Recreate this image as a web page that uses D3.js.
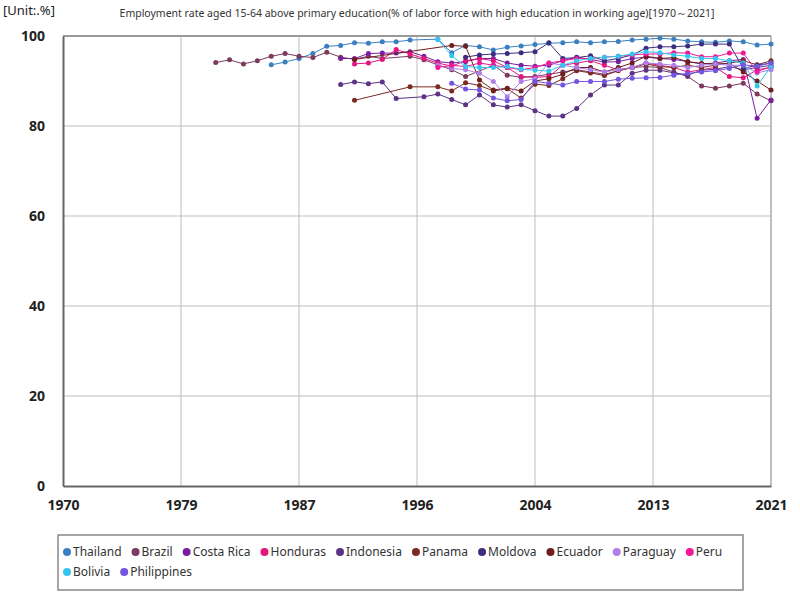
<!DOCTYPE html>
<html>
<head>
<meta charset="utf-8">
<script src="https://cdn.jsdelivr.net/npm/d3@7"></script>
<style>
  body { margin: 0; background: #fff; }
  text { font-family: "Noto Sans", "DejaVu Sans", sans-serif; }
</style>
</head>
<body>
<div id="chart"></div>
<script>
// series data: [year, value]
const thailand = [[1985,93.6],[1986,94.2],[1987,95.0],[1988,96.1],[1989,97.7],[1990,97.9],[1991,98.5],[1992,98.4],[1993,98.7],[1994,98.7],[1995,99.1],[1997,99.3],[1998,96.3],[1999,97.9],[2000,97.6],[2001,96.9],[2002,97.5],[2003,97.8],[2004,98.1],[2005,98.4],[2006,98.5],[2007,98.7],[2008,98.5],[2009,98.7],[2010,98.8],[2011,99.1],[2012,99.3],[2013,99.5],[2014,99.3],[2015,98.9],[2016,98.7],[2017,98.6],[2018,98.9],[2019,98.7],[2020,98.0],[2021,98.2]];
const brazil = [[1981,94.1],[1982,94.7],[1983,93.8],[1984,94.5],[1985,95.5],[1986,96.1],[1987,95.5],[1988,95.2],[1989,96.4],[1990,95.3],[1991,94.8],[1992,95.5],[1993,95.0],[1995,95.5],[1996,94.7],[1997,93.6],[1998,92.5],[1999,91.0],[2001,93.5],[2002,91.3],[2003,90.8],[2004,91.0],[2005,91.5],[2006,92.0],[2007,92.5],[2008,92.0],[2009,91.5],[2011,93.0],[2012,93.2],[2013,93.0],[2014,92.0],[2015,91.0],[2016,88.9],[2017,88.4],[2018,88.9],[2019,89.5],[2020,87.1],[2021,85.6]];
const costaRica = [[1990,95.0],[1991,95.0],[1992,96.1],[1993,96.2],[1994,96.2],[1995,96.5],[1996,95.5],[1997,94.3],[1998,94.0],[1999,94.3],[2000,95.0],[2001,95.0],[2002,94.0],[2003,93.5],[2004,93.3],[2005,93.5],[2006,94.5],[2007,95.3],[2008,94.8],[2009,94.2],[2010,94.3],[2011,95.0],[2012,95.3],[2013,95.0],[2014,94.8],[2015,94.3],[2016,93.8],[2017,94.0],[2018,94.5],[2019,94.8],[2020,81.7],[2021,85.8]];
const honduras = [[1991,93.8],[1992,94.0],[1993,94.8],[1994,97.0],[1995,96.0],[1996,95.0],[1997,94.0],[1998,93.3],[1999,94.5],[2000,95.0],[2001,94.5],[2002,93.0],[2003,91.0],[2004,90.8],[2005,91.0],[2006,93.5],[2007,94.0],[2008,94.5],[2009,93.5],[2010,92.5],[2011,93.0],[2012,94.0],[2013,93.5],[2014,93.0],[2015,92.0],[2016,92.5],[2017,93.0],[2018,91.0],[2019,90.7],[2020,92.5],[2021,93.0]];
const indonesia = [[1990,89.2],[1991,89.8],[1992,89.4],[1993,89.8],[1994,86.1],[1996,86.5],[1997,87.1],[1998,85.9],[1999,84.7],[2000,86.9],[2001,84.7],[2002,84.2],[2003,84.7],[2004,83.4],[2005,82.2],[2006,82.2],[2007,83.9],[2008,86.9],[2009,89.1],[2010,89.1],[2011,91.7],[2012,92.4],[2013,92.4],[2014,91.8],[2015,91.3],[2016,92.4],[2017,92.6],[2018,93.2],[2019,92.5],[2020,93.0],[2021,93.5]];
const panama = [[1991,85.7],[1995,88.7],[1997,88.7],[1998,87.8],[1999,89.6],[2000,89.0],[2001,87.8],[2002,88.3],[2003,86.2],[2004,89.3],[2005,89.0],[2006,90.5],[2007,92.3],[2008,91.8],[2009,91.2],[2010,92.3],[2011,93.0],[2012,93.8],[2013,93.2],[2014,93.0],[2015,93.5],[2016,93.0],[2017,93.5],[2018,94.0],[2019,94.5],[2020,93.6],[2021,94.5]];
const moldova = [[1999,95.3],[2000,95.8],[2001,96.0],[2002,96.1],[2003,96.3],[2004,96.5],[2005,98.5],[2006,95.0],[2007,95.2],[2008,95.6],[2009,94.5],[2010,95.0],[2011,95.8],[2012,97.3],[2013,97.6],[2014,97.6],[2015,97.8],[2016,98.2],[2017,98.2],[2018,98.2],[2019,92.8],[2020,93.5],[2021,94.0]];
const ecuador = [[1991,94.8],[1998,97.9],[1999,97.7],[2000,90.2],[2001,88.0],[2002,88.4],[2003,87.8],[2004,90.0],[2005,90.5],[2006,91.5],[2007,93.0],[2008,93.0],[2009,92.0],[2010,93.0],[2011,94.0],[2012,95.5],[2013,95.0],[2014,95.2],[2015,94.3],[2016,93.9],[2017,93.8],[2018,93.9],[2019,92.0],[2020,90.0],[2021,88.0]];
const paraguay = [[1997,93.5],[1998,92.8],[1999,92.5],[2000,91.7],[2001,89.9],[2002,86.5],[2003,89.9],[2004,90.5],[2005,94.0],[2006,93.5],[2007,93.0],[2008,92.5],[2009,92.0],[2010,92.5],[2011,93.0],[2012,94.0],[2013,93.8],[2014,93.5],[2015,93.0],[2016,93.5],[2017,93.8],[2018,93.5],[2019,93.5],[2020,91.8],[2021,92.5]];
const peru = [[1997,93.0],[1998,93.5],[1999,93.2],[2000,94.0],[2001,93.5],[2002,93.0],[2003,92.5],[2004,93.0],[2005,94.0],[2006,94.5],[2007,95.0],[2008,95.0],[2009,95.3],[2010,95.5],[2011,95.8],[2012,96.0],[2013,96.0],[2014,96.3],[2015,96.2],[2016,95.4],[2017,95.4],[2018,96.2],[2019,96.2],[2020,92.1],[2021,93.2]];
const bolivia = [[1997,99.2],[1998,95.6],[1999,93.2],[2000,93.0],[2001,93.0],[2002,93.2],[2003,92.6],[2004,92.4],[2005,92.2],[2006,93.5],[2007,94.5],[2008,95.0],[2009,95.3],[2010,95.5],[2011,96.0],[2012,96.5],[2013,96.3],[2014,95.8],[2015,95.5],[2016,95.0],[2017,95.0],[2018,94.5],[2019,94.0],[2020,88.9],[2021,93.2]];
const philippines = [[1998,89.5],[1999,88.2],[2000,88.0],[2001,86.2],[2002,85.6],[2003,85.9],[2004,89.9],[2005,89.5],[2006,89.1],[2007,89.9],[2008,89.9],[2009,89.9],[2010,90.4],[2011,90.6],[2012,90.7],[2013,90.8],[2014,91.3],[2015,91.7],[2016,92.0],[2017,92.3],[2018,92.8],[2019,93.6],[2020,93.3],[2021,94.0]];

const names = ["Thailand","Brazil","Costa Rica","Honduras","Indonesia","Panama","Moldova","Ecuador","Paraguay","Peru","Bolivia","Philippines"];
const values = [thailand, brazil, costaRica, honduras, indonesia, panama, moldova, ecuador, paraguay, peru, bolivia, philippines];
const colors = ["#3a80c0","#7b3a5e","#7b1fa2","#e4157e","#5c3385","#7a2b22","#3d2d80","#6e1e1e","#b07ee8","#f01896","#35c5ee","#7355e0"];

const xTicks = [1970, 1978.5, 1987, 1995.5, 2004, 2012.5, 2021];
const yTicks = [0, 20, 40, 60, 80, 100];

const W = 800, H = 600;
const margin = {top: 36, right: 29, bottom: 114, left: 63};

const svg = d3.select("#chart").append("svg")
    .attr("width", W).attr("height", H);

const x = d3.scaleLinear().domain([1970, 2021]).range([margin.left, W - margin.right]);
const y = d3.scaleLinear().domain([0, 100]).range([H - margin.bottom, margin.top]);

// grid
svg.append("g")
  .selectAll("line.h")
  .data(yTicks.slice(1, -1))
  .join("line")
    .attr("x1", margin.left).attr("x2", W - margin.right)
    .attr("y1", d => y(d)).attr("y2", d => y(d))
    .attr("stroke", "#bdbdbd").attr("stroke-width", 1);
svg.append("g")
  .selectAll("line.v")
  .data(xTicks.slice(1, -1))
  .join("line")
    .attr("x1", d => x(d)).attr("x2", d => x(d))
    .attr("y1", margin.top).attr("y2", H - margin.bottom)
    .attr("stroke", "#bdbdbd").attr("stroke-width", 1);

// frame
svg.append("line")
  .attr("x1", margin.left).attr("x2", W - margin.right)
  .attr("y1", margin.top).attr("y2", margin.top)
  .attr("stroke", "#999").attr("stroke-width", 2);
svg.append("line")
  .attr("x1", W - margin.right).attr("x2", W - margin.right)
  .attr("y1", margin.top).attr("y2", H - margin.bottom)
  .attr("stroke", "#aaa").attr("stroke-width", 1.5);

// axes
const xAxis = svg.append("g")
  .attr("transform", `translate(0,${H - margin.bottom})`)
  .call(d3.axisBottom(x).tickValues(xTicks).tickSize(0).tickPadding(14).tickFormat(d => Math.round(d)));
const yAxis = svg.append("g")
  .attr("transform", `translate(${margin.left},0)`)
  .call(d3.axisLeft(y).tickValues(yTicks).tickSize(0).tickPadding(18));
[xAxis, yAxis].forEach(a => {
  a.select(".domain").attr("stroke", "#666").attr("stroke-width", 2);
  a.selectAll("text").attr("font-size", 14).attr("font-weight", "bold").attr("fill", "#222");
});

// lines and points
const line = d3.line().x(d => x(d[0])).y(d => y(d[1]));
const series = svg.append("g")
  .selectAll("g")
  .data(values)
  .join("g");
series.append("path")
  .attr("d", line)
  .attr("fill", "none")
  .attr("stroke", (d, i) => colors[i])
  .attr("stroke-width", 1);
series.selectAll("circle")
  .data(d => d)
  .join("circle")
    .attr("cx", d => x(d[0]))
    .attr("cy", d => y(d[1]))
    .attr("r", 2.5)
    .attr("fill", function () { return colors[values.indexOf(d3.select(this.parentNode).datum())]; });

// titles
svg.append("text")
  .attr("x", 3).attr("y", 15)
  .attr("font-size", 13)
  .attr("fill", "#222")
  .text("[Unit:.%]");
svg.append("text")
  .attr("x", 417).attr("y", 17)
  .attr("text-anchor", "middle")
  .attr("font-size", 10.5)
  .attr("fill", "#333")
  .text("Employment rate aged 15-64 above primary education(% of labor force with high education in working age)[1970\uFF5E2021]");

// legend
const legend = svg.append("g");
legend.append("rect")
  .attr("x", 58).attr("y", 535).attr("width", 685).attr("height", 55)
  .attr("fill", "none").attr("stroke", "#888").attr("stroke-width", 1.5);

let lx = 67, ly = 552;
names.forEach((n, i) => {
  const g = legend.append("g");
  g.append("circle").attr("cx", lx).attr("cy", ly).attr("r", 4).attr("fill", colors[i]);
  const t = g.append("text").attr("x", lx + 6).attr("y", ly + 4)
    .attr("font-size", 12).attr("fill", "#333").text(n);
  const w = t.node().getComputedTextLength();
  lx += w + 20;
  if (i === 9) { lx = 67; ly = 572; }
});
</script>
</body>
</html>
